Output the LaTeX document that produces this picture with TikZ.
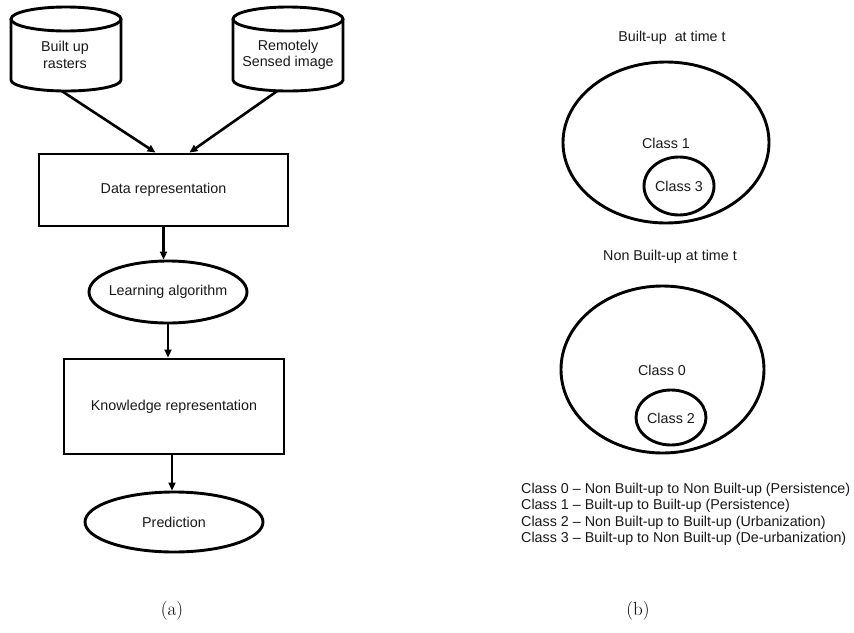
\documentclass[tikz,border=0pt]{standalone}
\usepackage{fontspec}
\setsansfont{Liberation Sans}
\usetikzlibrary{arrows.meta,shapes.geometric}
\begin{document}
\begin{tikzpicture}[x=1pt,y=-1pt,
  lw/.style={line width=2.9pt},
  txt/.style={font=\sffamily\fontsize{14.3}{16.3}\selectfont, text=black!90, inner sep=0pt, align=center},
  boxnode/.style={draw, lw, rectangle, txt, inner sep=0pt},
  ellshape/.style={draw, lw, ellipse, inner sep=0pt},
  arr/.style={line width=2.6pt, -{Triangle[length=8pt,width=7pt]}, shorten >=0pt},
  captext/.style={font=\fontsize{19}{21}\selectfont, inner sep=0pt}
]
\useasboundingbox (0,0) rectangle (854,632);
\fill[white] (0,0) rectangle (854,632);

% cylinders
\foreach \cx in {66, 288}{
  \draw[lw] (\cx-55,19) -- (\cx-55,80) arc[start angle=180, end angle=0, x radius=55, y radius=11] -- (\cx+55,19);
  \draw[lw] (\cx,19) ellipse[x radius=55, y radius=12];
}
\node[txt, minimum width=110pt, minimum height=84pt] (cyla) at (66,49) {};
\node[txt, minimum width=110pt, minimum height=84pt] (cylb) at (288,49) {};
\node[txt] (cylatext) at (65,55) {Built up\\rasters};
\node[txt] (cylbtext) at (288,55) {Remotely\\Sensed image};

\node[boxnode, minimum width=249pt, minimum height=72pt] (dr) at (163.5,190) {Data representation};
\node[ellshape, minimum width=158pt, minimum height=62pt] (la) at (168,292) {};
\node[txt] (latext) at (168,292) {Learning algorithm};
\node[boxnode, minimum width=220pt, minimum height=95pt] (kr) at (174,406.5) {Knowledge representation};
\node[ellshape, minimum width=178pt, minimum height=60pt] (pr) at (174,522) {};
\node[txt] (prtext) at (174,522) {Prediction};

\draw[arr] ([xshift=-4pt]cyla.south) -- ([xshift=-8pt]dr.north);
\draw[arr] ([xshift=-11pt]cylb.south) -- ([xshift=26pt]dr.north);
\draw[arr] (dr.south) -- (dr.south |- la.north);
\draw[arr] (la.south) -- (la.south |- kr.north);
\draw[arr] ([xshift=-2pt]kr.south) -- ([xshift=-2pt]kr.south |- pr.north);

% right part
\node[txt] (bt) at (672,38) {Built-up\ \ at time t};
\node[ellshape, minimum width=206pt, minimum height=161pt] (e1) at (666,142.5) {};
\node[txt] (c1) at (666,143) {Class 1};
\node[ellshape, minimum width=70pt, minimum height=58pt] (e3) at (679,186) {};
\node[txt] (c3) at (679,186) {Class 3};

\node[txt] (nbt) at (670,257) {Non Built-up at time t};
\node[ellshape, minimum width=203pt, minimum height=167pt] (e0) at (662.5,369.5) {};
\node[txt] (c0) at (662,370) {Class 0};
\node[ellshape, minimum width=70pt, minimum height=55pt] (e2) at (671,417.5) {};
\node[txt] (c2) at (671,418) {Class 2};

\node[txt, align=left, anchor=north west] (legend) at (521,483) {Class 0 -- Non Built-up to Non Built-up (Persistence)\\
Class 1 -- Built-up to Built-up (Persistence)\\
Class 2 -- Non Built-up to Built-up (Urbanization)\\
Class 3 -- Built-up to Non Built-up (De-urbanization)};

\node[captext] (capa) at (172,611) {(a)};
\node[captext] (capb) at (638,611) {(b)};
\end{tikzpicture}
\end{document}
